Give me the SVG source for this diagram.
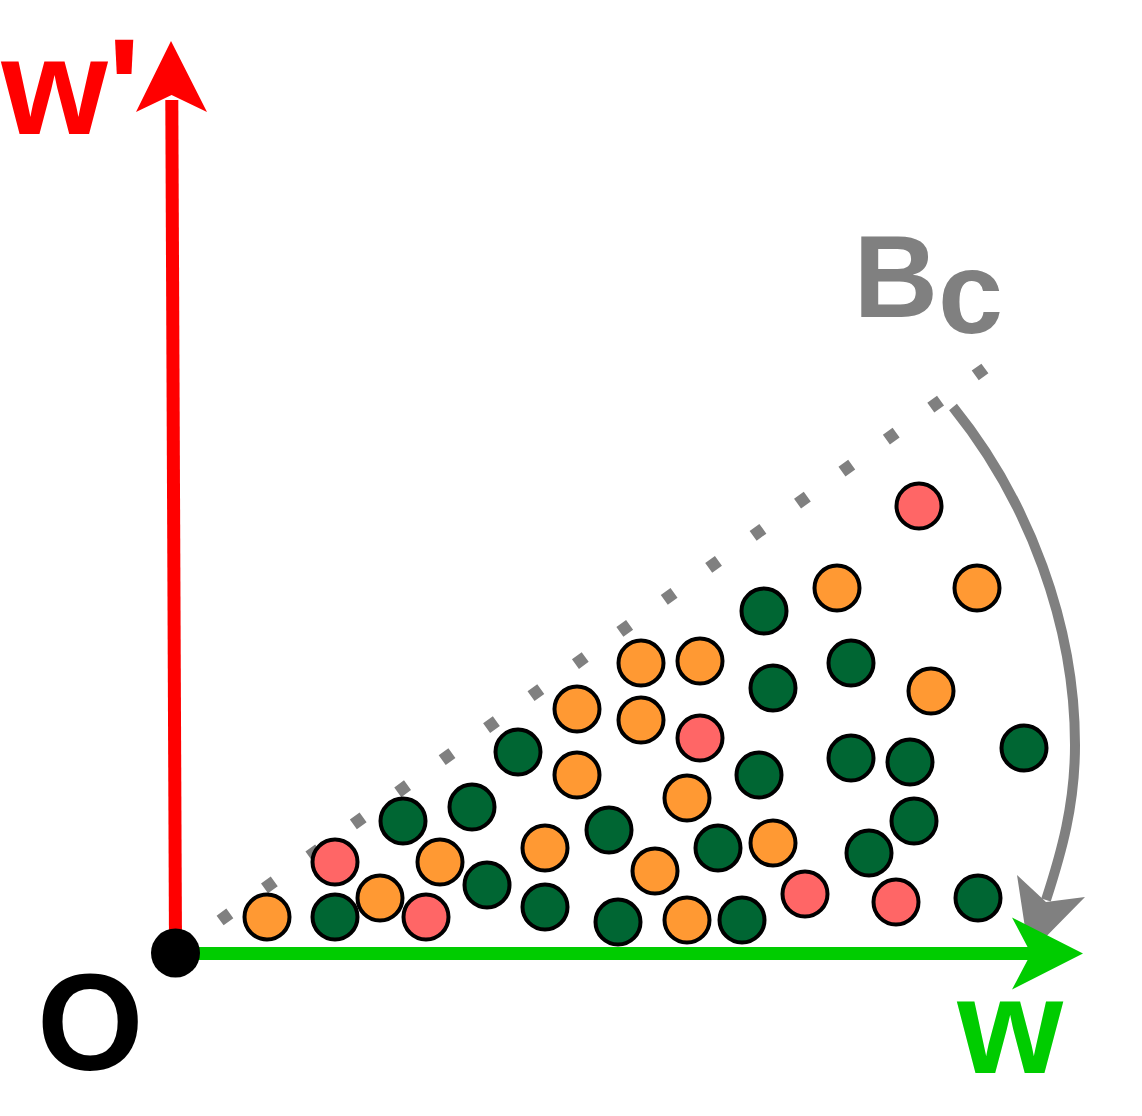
<svg xmlns="http://www.w3.org/2000/svg" width="1142" height="1116" viewBox="0 0 1142 1116">
<style>
text{font-family:"Liberation Sans",Arial,sans-serif;font-weight:bold}
.pt circle{stroke:#000;stroke-width:4}
.o circle{fill:#ff9933}
.g circle{fill:#006633}
.p circle{fill:#ff6666}
</style>
<rect width="1142" height="1116" fill="#fff"/>
<g id="connectors">
  <path id="bc-boundary" d="M220.1,920.5 L984.9,368.5" fill="none" stroke="#808080" stroke-width="12" stroke-dasharray="12 42.78"/>
  <g id="bc-rotation">
    <path d="M953,407 C1029,501 1075,625 1075,745 C1075,805 1061.4,852.5 1046,900" fill="none" stroke="#808080" stroke-width="10"/>
    <polygon points="1029,954 1085,897 1046,902 1017,875" fill="#808080"/>
  </g>
  <g id="axis-w-prime">
    <line x1="175.5" y1="945" x2="171.8" y2="100" stroke="#ff0000" stroke-width="13"/>
    <polygon points="171,41 207,112 171.6,95 136,112" fill="#ff0000"/>
  </g>
  <g id="axis-w">
    <line x1="176" y1="953.5" x2="1035" y2="953.5" stroke="#00cc00" stroke-width="13"/>
    <polygon points="1083,953.5 1012,989.5 1031,953.5 1012,917.5" fill="#00cc00"/>
  </g>
</g>
<g id="points">
  <g id="pt01" class="pt o"><circle cx="267" cy="917" r="22.5"/></g>
  <g id="pt02" class="pt g"><circle cx="335" cy="917" r="22.5"/></g>
  <g id="pt03" class="pt p"><circle cx="335" cy="862" r="22.5"/></g>
  <g id="pt04" class="pt o"><circle cx="380" cy="898" r="22.5"/></g>
  <g id="pt05" class="pt p"><circle cx="426" cy="917" r="22.5"/></g>
  <g id="pt06" class="pt g"><circle cx="403" cy="821" r="22.5"/></g>
  <g id="pt07" class="pt o"><circle cx="440" cy="862" r="22.5"/></g>
  <g id="pt08" class="pt g"><circle cx="472" cy="807" r="22.5"/></g>
  <g id="pt09" class="pt g"><circle cx="487" cy="885" r="22.5"/></g>
  <g id="pt10" class="pt g"><circle cx="518" cy="752" r="22.5"/></g>
  <g id="pt11" class="pt o"><circle cx="545" cy="848" r="22.5"/></g>
  <g id="pt12" class="pt g"><circle cx="545" cy="907" r="22.5"/></g>
  <g id="pt13" class="pt o"><circle cx="577" cy="709" r="22.5"/></g>
  <g id="pt14" class="pt o"><circle cx="577" cy="775" r="22.5"/></g>
  <g id="pt15" class="pt g"><circle cx="609" cy="830" r="22.5"/></g>
  <g id="pt16" class="pt g"><circle cx="618" cy="922" r="22.5"/></g>
  <g id="pt17" class="pt o"><circle cx="641" cy="663" r="22.5"/></g>
  <g id="pt18" class="pt o"><circle cx="641" cy="720" r="22.5"/></g>
  <g id="pt19" class="pt o"><circle cx="655" cy="871" r="22.5"/></g>
  <g id="pt20" class="pt o"><circle cx="687" cy="920" r="22.5"/></g>
  <g id="pt21" class="pt o"><circle cx="700" cy="661" r="22.5"/></g>
  <g id="pt22" class="pt p"><circle cx="700" cy="738" r="22.5"/></g>
  <g id="pt23" class="pt o"><circle cx="687" cy="798" r="22.5"/></g>
  <g id="pt24" class="pt g"><circle cx="718" cy="848" r="22.5"/></g>
  <g id="pt25" class="pt g"><circle cx="742" cy="920" r="22.5"/></g>
  <g id="pt26" class="pt g"><circle cx="764" cy="611" r="22.5"/></g>
  <g id="pt27" class="pt g"><circle cx="773" cy="688" r="22.5"/></g>
  <g id="pt28" class="pt g"><circle cx="759" cy="775" r="22.5"/></g>
  <g id="pt29" class="pt o"><circle cx="773" cy="843" r="22.5"/></g>
  <g id="pt30" class="pt p"><circle cx="805" cy="894" r="22.5"/></g>
  <g id="pt31" class="pt o"><circle cx="837" cy="588" r="22.5"/></g>
  <g id="pt32" class="pt g"><circle cx="851" cy="663" r="22.5"/></g>
  <g id="pt33" class="pt g"><circle cx="851" cy="758" r="22.5"/></g>
  <g id="pt34" class="pt g"><circle cx="869" cy="853" r="22.5"/></g>
  <g id="pt35" class="pt p"><circle cx="896" cy="902" r="22.5"/></g>
  <g id="pt36" class="pt p"><circle cx="919" cy="506" r="22.5"/></g>
  <g id="pt37" class="pt o"><circle cx="977" cy="588" r="22.5"/></g>
  <g id="pt38" class="pt o"><circle cx="931" cy="691" r="22.5"/></g>
  <g id="pt39" class="pt g"><circle cx="910" cy="762" r="22.5"/></g>
  <g id="pt40" class="pt g"><circle cx="914" cy="821" r="22.5"/></g>
  <g id="pt41" class="pt g"><circle cx="1024" cy="748" r="22.5"/></g>
  <g id="pt42" class="pt g"><circle cx="978" cy="898" r="22.5"/></g>
</g>
<g id="origin"><circle cx="175.5" cy="953" r="24.5" fill="#000"/></g>
<g id="label-O"><text x="37" y="1069.5" font-size="137" fill="#000">O</text></g>
<g id="label-w-prime"><text x="1.3" y="134" font-size="137" fill="#ff0000">w'</text></g>
<g id="label-w"><text x="957.3" y="1073" font-size="136" fill="#00cc00">w</text></g>
<g id="label-Bc"><text x="853.5" y="317" font-size="117" fill="#808080">B<tspan dy="16">c</tspan></text></g>
</svg>
